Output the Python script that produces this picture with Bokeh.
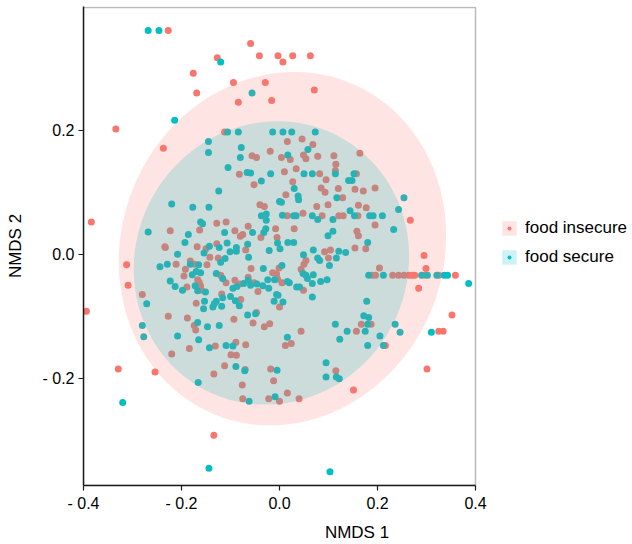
import numpy as np
from bokeh.plotting import figure
from bokeh.models import Range1d, FixedTicker, Legend, LegendItem, BoxAnnotation
from bokeh.embed import file_html
from bokeh.resources import INLINE

# ---------------- data (NMDS scores) ----------------
# food insecure: points outside the secure ellipse
ins_out_x = [-0.227, -0.059, -0.041, -0.003, 0.027, 0.063, 0.007, -0.127, -0.176, -0.094,
             -0.029, -0.169, -0.084, -0.016, 0.071, -0.334, -0.237, -0.384, -0.312, -0.309,
             -0.394, -0.329, -0.254, -0.134, 0.151, 0.301, 0.352, 0.325, 0.334, 0.216,
             0.284, 0.295, 0.299, 0.267, 0.164,
             0.189, 0.196, 0.231, 0.243, 0.254, 0.264, 0.271, 0.276, 0.297, 0.325, 0.359,
             0.204]
ins_out_y = [0.361, 0.340, 0.320, 0.320, 0.320, 0.320, 0.310, 0.317, 0.292, 0.277,
             0.277, 0.260, 0.245, 0.248, 0.265, 0.202, 0.171, 0.052, -0.017, -0.050,
             -0.092, -0.185, -0.190, -0.292, -0.219, -0.185, -0.098, -0.124, -0.124, -0.147,
             -0.055, -0.002, -0.023, 0.055, 0.163,
             -0.034, -0.034, -0.034, -0.034, -0.034, -0.034, -0.034, -0.034, -0.034, -0.034, -0.034,
             -0.022]
# food insecure: upper part of the cloud
ins_up_x = [-0.112, -0.056, -0.047, -0.019, -0.082, -0.052, -0.040, -0.031, -0.128, -0.109,
            -0.064, -0.223, -0.163, -0.091, -0.008, -0.080, -0.075, -0.038, -0.234, -0.168,
            -0.128, -0.150,
            0.016, 0.046, 0.068, 0.004, 0.022, 0.049, 0.054, 0.078, 0.111, 0.115,
            0.114, 0.034, 0.010, 0.082, 0.095, 0.157, 0.085, 0.093, 0.120, 0.154,
            0.171, 0.195, 0.013, 0.129, 0.099, 0.076, 0.161, 0.177, 0.016, 0.048,
            0.087, 0.121, 0.130, 0.160, 0.030, 0.158, 0.161, 0.195, 0.154, 0.176,
            -0.005, 0.027]
ins_up_y = [0.197, 0.159, 0.156, 0.166, 0.129, 0.112, 0.080, 0.077, 0.050, 0.052,
            0.045, 0.038, 0.039, 0.038, 0.041, 0.029, 0.032, 0.027, 0.012, 0.012,
            0.017, 0.009,
            0.182, 0.186, 0.177, 0.156, 0.153, 0.160, 0.154, 0.158, 0.159, 0.145,
            0.135, 0.138, 0.133, 0.130, 0.120, 0.130, 0.107, 0.100, 0.106, 0.105,
            0.102, 0.107, 0.096, 0.091, 0.080, 0.077, 0.079, 0.075, 0.062, 0.066,
            0.062, 0.062, 0.062, 0.062, 0.041, 0.037, 0.030, 0.047, 0.010, 0.009,
            0.027, 0.117]
# food insecure: lower part of the cloud
ins_low_x = [-0.233, -0.211, -0.195, -0.192, -0.189, -0.182, -0.173, -0.167, -0.164, -0.161,
             -0.159, -0.148, -0.170, -0.118, -0.120, -0.109, -0.091, -0.081, -0.079, -0.064,
             -0.052, -0.044, -0.014, -0.004, -0.001, -0.047, -0.020, -0.031, -0.054, -0.093,
             -0.174, -0.171, -0.188, -0.227, -0.184, -0.131, -0.089, -0.069, -0.099, -0.088,
             -0.220, -0.112, -0.070, -0.280, -0.142, -0.125, -0.069, -0.058,
             -0.134, -0.076, -0.075, -0.018, -0.012, -0.022, 0.000, 0.016, 0.040, 0.115,
             0.092, 0.104, 0.100, 0.054, 0.050, 0.044, 0.005, 0.049, 0.000, 0.167,
             0.187, 0.157, 0.044, 0.024, 0.012, -0.006]
ins_low_y = [0.011, -0.016, -0.035, -0.024, -0.053, -0.011, -0.016, -0.041, -0.045, -0.051,
             -0.058, -0.017, -0.079, -0.064, -0.034, -0.046, -0.042, -0.048, -0.073, -0.037,
             -0.046, -0.060, -0.030, -0.040, -0.022, -0.094, -0.112, -0.117, -0.111, -0.105,
             -0.115, -0.122, -0.103, -0.100, -0.152, -0.148, -0.142, -0.146, -0.162, -0.163,
             -0.161, -0.180, -0.186, -0.065, -0.005, -0.006, 0.007, -0.023,
             -0.193, -0.211, -0.233, -0.185, -0.204, -0.233, -0.237, -0.224, -0.233, -0.188,
             0.004, 0.007, -0.006, -0.010, -0.016, -0.024, -0.046, -0.058, -0.085, -0.113,
             -0.113, -0.124, -0.124, -0.144, -0.147, -0.032]

# food secure: points outside / at the edge of the cloud
sec_out_x = [-0.268, -0.246, -0.120, -0.056, -0.214, -0.320, -0.144, 0.103, 0.386, 0.310,
             0.254, 0.243, 0.233, 0.212, 0.205, 0.236, 0.246, -0.271, -0.280, -0.277,
             -0.268, -0.166,
             0.182, 0.212, 0.290, 0.302, 0.321, 0.336, 0.343]
sec_out_y = [0.361, 0.361, 0.310, 0.260, 0.216, -0.239, -0.345, -0.351, -0.047, -0.126,
             0.091, 0.072, 0.040, -0.147, -0.132, -0.113, -0.126, -0.080, -0.115, -0.133,
             0.036, -0.207,
             -0.034, -0.034, -0.034, -0.034, -0.034, -0.034, -0.034]
# food secure: upper part of the cloud
sec_up_x = [-0.106, -0.084, -0.014, -0.145, -0.145, -0.078, -0.080, -0.105, -0.066, -0.059,
            -0.018, -0.037, -0.124, 0.000, -0.220, -0.177, -0.144, -0.037, -0.027, -0.027,
            -0.161, -0.157, -0.186, -0.112, -0.055, -0.032, -0.028, -0.193, -0.107, -0.065,
            -0.143, -0.123, -0.088, -0.004,
            0.007, 0.025, 0.073, 0.058, 0.017, 0.114, 0.050, 0.067, 0.141, 0.148,
            0.152, 0.030, 0.038, 0.039, 0.004, 0.117, 0.144, 0.006, 0.029, 0.034,
            0.067, 0.109, 0.153, 0.184, 0.191, 0.210, 0.078, 0.109, 0.099, 0.017,
            0.029, 0.180, 0.001]
sec_up_y = [0.197, 0.197, 0.197, 0.182, 0.164, 0.172, 0.156, 0.140, 0.132, 0.131,
            0.130, 0.118, 0.102, 0.085, 0.081, 0.076, 0.076, 0.062, 0.065, 0.055,
            0.052, 0.049, 0.032, 0.035, 0.035, 0.035, 0.041, 0.019, 0.018, 0.016,
            0.013, 0.011, 0.011, 0.018,
            0.197, 0.197, 0.197, 0.169, 0.160, 0.130, 0.130, 0.130, 0.119, 0.119,
            0.130, 0.106, 0.094, 0.088, 0.084, 0.091, 0.070, 0.063, 0.062, 0.062,
            0.062, 0.056, 0.062, 0.062, 0.062, 0.062, 0.056, 0.037, 0.030, 0.019,
            0.019, 0.019, 0.009]
# food secure: lower part of the cloud
sec_low_x = [-0.244, -0.229, -0.208, -0.223, -0.213, -0.198, -0.182, -0.178, -0.170, -0.172,
             -0.167, -0.165, -0.161, -0.154, -0.151, -0.153, -0.155, -0.136, -0.133, -0.129,
             -0.118, -0.116, -0.129, -0.116, -0.100, -0.095, -0.090, -0.082, -0.087, -0.073,
             -0.064, -0.059, -0.046, -0.034, -0.022, -0.010, -0.024, -0.033, -0.021, -0.006,
             -0.011, -0.065, -0.049, -0.123, -0.147, -0.167, -0.208, -0.165, -0.143, -0.109,
             -0.095, -0.089, -0.120, -0.111, -0.101, -0.088, -0.063,
             -0.071, -0.062, -0.005, -0.009, 0.095, 0.116, 0.122, 0.095,
             0.049, 0.069, 0.121, 0.135, 0.078, 0.082, 0.116, 0.005, 0.102, 0.048,
             0.054, 0.057, 0.069, 0.084, 0.097, 0.067, 0.016, 0.020, 0.035, 0.041,
             0.067, -0.003, 0.007, 0.178, 0.172, 0.182, 0.180, 0.114, 0.138, 0.175,
             0.123, 0.180, 0.016]
sec_low_y = [-0.020, -0.016, 0.000, -0.043, -0.052, -0.058, -0.016, -0.033, -0.028, -0.051,
             -0.059, -0.017, -0.030, 0.002, -0.061, -0.076, -0.088, -0.085, -0.080, -0.076,
             -0.084, -0.070, -0.031, -0.039, -0.068, -0.055, -0.075, -0.083, -0.052, -0.047,
             -0.042, -0.050, -0.048, -0.051, -0.055, -0.041, -0.041, -0.023, 0.006, -0.065,
             -0.076, -0.098, -0.096, -0.115, -0.117, -0.110, -0.132, -0.138, -0.151, -0.147,
             -0.148, -0.181, -0.013, -0.007, 0.004, 0.005, -0.005,
             -0.188, -0.237, -0.187, -0.230, -0.198, -0.198, -0.201, -0.175,
             -0.001, 0.007, 0.005, 0.003, -0.006, -0.010, -0.006, -0.018, -0.018, -0.031,
             -0.034, -0.039, -0.033, -0.044, -0.041, -0.047, -0.044, -0.046, -0.053, -0.053,
             -0.069, -0.066, -0.077, -0.076, -0.099, -0.102, -0.113, -0.113, -0.124, -0.124,
             -0.137, -0.147, -0.134]

# 95% ellipses: centre x, centre y, half-extent x, half-extent y, correlation
ellipse_insecure = (0.006, 0.009, 0.334, 0.285, 0.073)
ellipse_secure = (-0.0165, -0.014, 0.281, 0.2285, 0.044)

group_labels = ["food insecure", "food secure"]
x_ticks = [-0.4, -0.2, 0.0, 0.2, 0.4]
x_tick_labels = ["- 0.4", "- 0.2", "0.0", "0.2", "0.4"]
y_ticks = [-0.2, 0.0, 0.2]
y_tick_labels = ["- 0.2", "0.0", "0.2"]

# panel limits (data units)
x_lo, x_hi = -0.4, 0.4
y_lo, y_hi = -0.373, 0.398

PINK = "#F8766D"
TEAL = "#00BFC4"
FONT = "Liberation Sans"
INK = "#1a1a1a"

ins_x = ins_out_x + ins_up_x + ins_low_x
ins_y = ins_out_y + ins_up_y + ins_low_y
sec_x = sec_out_x + sec_up_x + sec_low_x
sec_y = sec_out_y + sec_up_y + sec_low_y


def ellipse_outline(cx, cy, rx, ry, rho, n=240):
    t = np.linspace(0, 2 * np.pi, n)
    xs = cx + rx * np.cos(t)
    ys = cy + ry * (rho * np.cos(t) + np.sqrt(1 - rho ** 2) * np.sin(t))
    return xs, ys


W, H = 630, 544
LEFT, TOP, BOTTOM = 83, 6, 59
px_per_x = 490.0          # pixels per data unit on x
px_per_y = 620.0          # pixels per data unit on y
frame_w = W - LEFT
x_end = x_lo + frame_w / px_per_x        # leave room for the legend inside the frame
y_end = y_hi + 1.0 / px_per_y

p = figure(width=W, height=H,
           x_range=Range1d(x_lo, x_end), y_range=Range1d(y_lo, y_end),
           output_backend="svg", toolbar_location=None,
           min_border_left=LEFT, min_border_right=0, min_border_top=TOP,
           min_border_bottom=BOTTOM,
           background_fill_color="white", border_fill_color="white")
p.grid.visible = False
p.outline_line_color = None

r_ins = p.scatter(ins_x, ins_y, size=7, fill_color=PINK, line_color=None)
r_sec = p.scatter(sec_x, sec_y, size=7, fill_color=TEAL, line_color=None)

ex, ey = ellipse_outline(*ellipse_insecure)
e_ins = p.patch(ex, ey, fill_color=PINK, fill_alpha=0.2, line_color=None)
ex, ey = ellipse_outline(*ellipse_secure)
e_sec = p.patch(ex, ey, fill_color=TEAL, fill_alpha=0.2, line_color=None)

# panel border (top and right sides; left/bottom are the axes)
p.add_layout(BoxAnnotation(left=x_lo, right=x_hi, bottom=y_lo, top=y_hi,
                           fill_alpha=0, fill_color=None,
                           line_color=INK, line_width=1.5))

# axes
p.xaxis.ticker = FixedTicker(ticks=x_ticks)
p.xaxis.major_label_overrides = dict(zip(x_ticks, x_tick_labels))
p.xaxis.bounds = (x_lo, x_hi)
p.yaxis.ticker = FixedTicker(ticks=y_ticks)
p.yaxis.major_label_overrides = dict(zip(y_ticks, y_tick_labels))
p.xaxis.axis_label = "NMDS 1"
p.yaxis.axis_label = "NMDS 2"
for ax in (p.xaxis[0], p.yaxis[0]):
    ax.axis_line_color = INK
    ax.axis_line_width = 1.5
    ax.major_tick_line_color = INK
    ax.major_tick_line_width = 1.2
    ax.major_tick_in = 0
    ax.major_tick_out = 5
    ax.minor_tick_line_color = None
    ax.major_label_text_font = FONT
    ax.major_label_text_font_size = "16px"
    ax.major_label_text_color = "black"
    ax.axis_label_text_font = FONT
    ax.axis_label_text_font_size = "17px"
    ax.axis_label_text_font_style = "normal"
    ax.axis_label_text_color = "black"
p.xaxis[0].major_label_standoff = 4
p.xaxis[0].axis_label_standoff = 8
p.yaxis[0].major_label_standoff = 4
p.yaxis[0].axis_label_standoff = 14

# legend: light squares with labels, then small dots centred on them
leg_a = Legend(items=[LegendItem(label=group_labels[0], renderers=[e_ins]),
                      LegendItem(label=group_labels[1], renderers=[e_sec])],
               location=(417, 217), glyph_width=18, glyph_height=18, label_height=22,
               label_standoff=7, spacing=7, padding=0, margin=0,
               border_line_color=None, background_fill_alpha=0,
               label_text_font=FONT, label_text_font_size="17px", label_text_color="black")
leg_b = Legend(items=[LegendItem(label="", renderers=[r_ins]),
                      LegendItem(label="", renderers=[r_sec])],
               location=(421, 217), glyph_width=10, glyph_height=10, label_height=22,
               label_standoff=0, spacing=7, padding=0, margin=0,
               border_line_color=None, background_fill_alpha=0,
               label_text_font=FONT, label_text_font_size="17px")
p.add_layout(leg_a, "center")
p.add_layout(leg_b, "center")

open("out.html", "w").write(file_html(p, INLINE))
